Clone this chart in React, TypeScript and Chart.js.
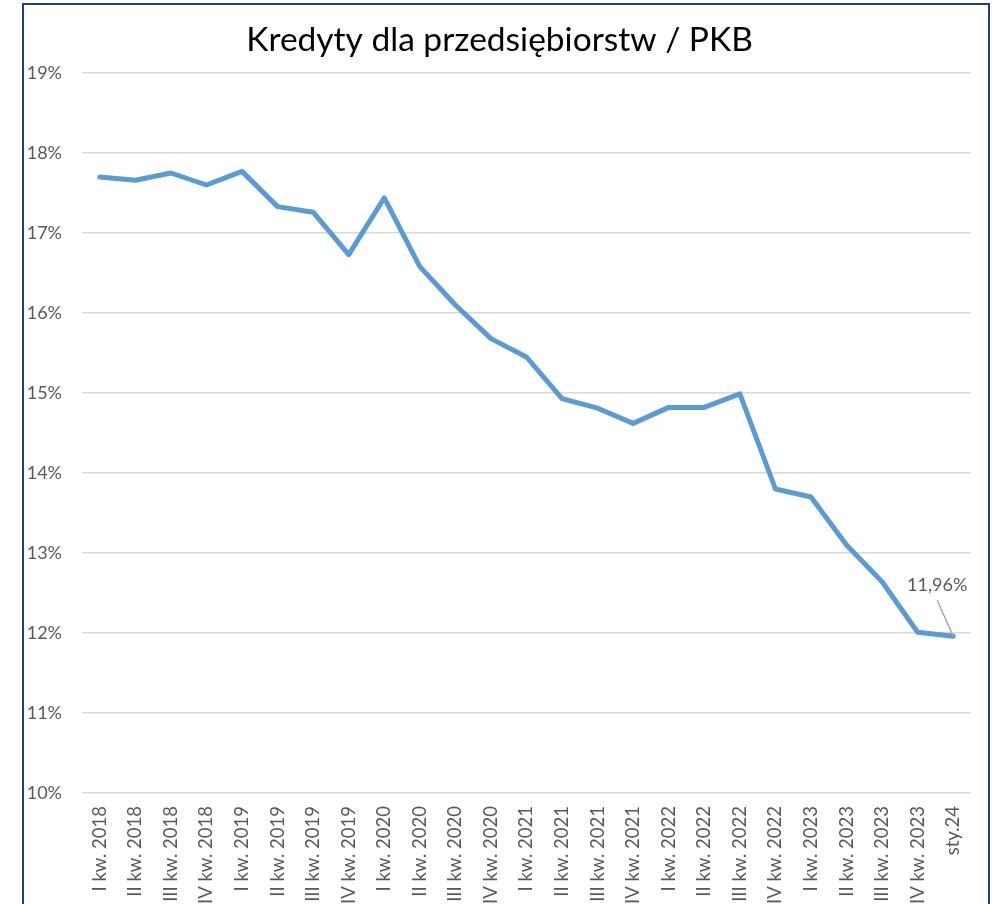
import { useEffect, useRef } from "react";
import { Chart, registerables } from "chart.js";

Chart.register(...registerables);

const TITLE = "Kredyty dla przedsiębiorstw / PKB";

const categories = [
  "I kw. 2018", "II kw. 2018", "III kw. 2018", "IV kw. 2018",
  "I kw. 2019", "II kw. 2019", "III kw. 2019", "IV kw. 2019",
  "I kw. 2020", "II kw. 2020", "III kw. 2020", "IV kw. 2020",
  "I kw. 2021", "II kw. 2021", "III kw. 2021", "IV kw. 2021",
  "I kw. 2022", "II kw. 2022", "III kw. 2022", "IV kw. 2022",
  "I kw. 2023", "II kw. 2023", "III kw. 2023", "IV kw. 2023",
  "sty.24",
];

const creditToGdp = [
  17.70, 17.66, 17.75, 17.60,
  17.77, 17.33, 17.26, 16.73,
  17.44, 16.58, 16.10, 15.68,
  15.45, 14.93, 14.81, 14.62,
  14.82, 14.82, 14.99, 13.80,
  13.70, 13.10, 12.64, 12.01,
  11.96,
];

const yMin = 10;
const yMax = 19;
const yStep = 1;

const FONT = "Lato";
const TEXT_GRAY = "#595959";

const fmtPct = (v: number) => v.toFixed(2).replace(".", ",") + "%";

const lastLabelPlugin = {
  id: "lastLabel",
  afterDatasetsDraw(chart: any) {
    const meta = chart.getDatasetMeta(0);
    const pts = meta.data;
    if (!pts.length) return;
    const idx = pts.length - 1;
    const p = pts[idx];
    const value = chart.data.datasets[0].data[idx] as number;
    const ctx = chart.ctx;
    ctx.save();
    ctx.strokeStyle = "#a6a6a6";
    ctx.lineWidth = 1.5;
    ctx.beginPath();
    ctx.moveTo(p.x - 16, p.y - 36);
    ctx.lineTo(p.x, p.y);
    ctx.stroke();
    ctx.fillStyle = TEXT_GRAY;
    ctx.font = `18px ${FONT}`;
    ctx.textAlign = "center";
    ctx.textBaseline = "middle";
    ctx.fillText(fmtPct(value), p.x - 16, p.y - 51);
    ctx.restore();
  },
};

export default function App() {
  const ref = useRef<HTMLCanvasElement | null>(null);

  useEffect(() => {
    if (!ref.current) return;
    const chart = new Chart(ref.current, {
      type: "line",
      data: {
        labels: categories,
        datasets: [
          {
            data: creditToGdp,
            borderColor: "#5b9bd5",
            backgroundColor: "#5b9bd5",
            borderWidth: 5,
            pointRadius: 0,
            tension: 0,
            borderJoinStyle: "round",
            borderCapStyle: "round",
          },
        ],
      },
      options: {
        responsive: false,
        animation: false,
        layout: { padding: { top: 0, left: 28, right: 29, bottom: 0 } },
        plugins: {
          legend: { display: false },
          tooltip: { enabled: false },
          title: {
            display: true,
            text: TITLE,
            color: "#000000",
            font: { family: FONT, size: 33.5, weight: "normal" },
            padding: { top: 20, bottom: 12.8 },
          },
        },
        scales: {
          x: {
            offset: true,
            grid: { display: false, drawTicks: false },
            border: { display: false },
            ticks: {
              autoSkip: false,
              minRotation: 90,
              maxRotation: 90,
              padding: 13,
              color: TEXT_GRAY,
              font: { family: FONT, size: 18.5 },
            },
            afterFit(scale: any) {
              scale.height = 207;
            },
          },
          y: {
            min: yMin,
            max: yMax,
            grid: { color: "#d9d9d9", lineWidth: 1.5, drawTicks: false },
            border: { display: false },
            ticks: {
              stepSize: yStep,
              padding: 20,
              color: TEXT_GRAY,
              font: { family: FONT, size: 18 },
              callback: (v: any) => `${v}%`,
            },
            afterFit(scale: any) {
              scale.width = 54;
            },
          },
        },
      },
      plugins: [lastLabelPlugin],
    });
    return () => chart.destroy();
  }, []);

  return (
    <div
      style={{
        position: "fixed",
        left: 0,
        top: 0,
        width: 1000,
        height: 904,
        overflow: "hidden",
        background: "#ffffff",
      }}
    >
      <canvas
        ref={ref}
        width={1000}
        height={1000}
        style={{ position: "absolute", left: 0, top: 0, display: "block" }}
      />
      <div
        style={{
          position: "absolute",
          left: 22,
          top: 3,
          width: 968,
          height: 1100,
          boxSizing: "border-box",
          border: "2px solid #203f7f",
          pointerEvents: "none",
        }}
      />
    </div>
  );
}
